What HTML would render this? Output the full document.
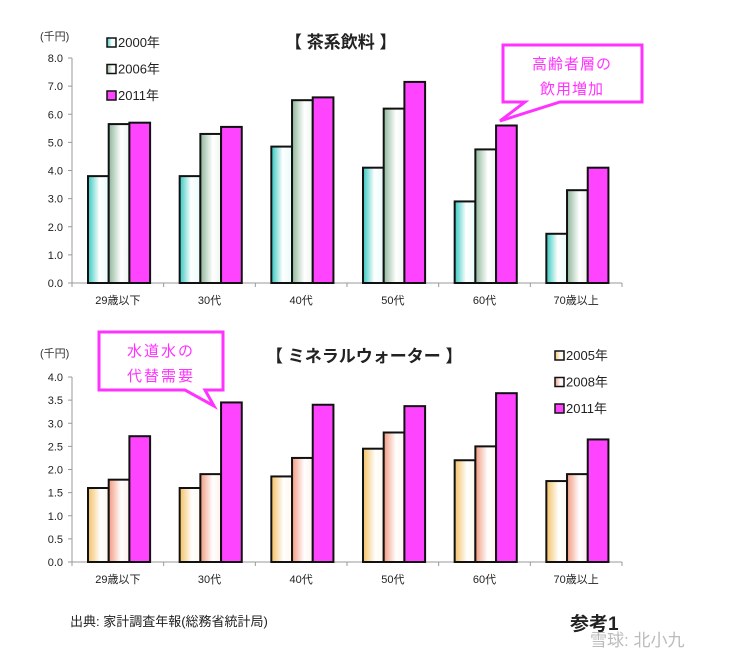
<!DOCTYPE html>
<html><head><meta charset="utf-8">
<style>
html,body{margin:0;padding:0;background:#fff;}
svg{display:block;font-family:"Liberation Sans","Noto Sans CJK JP",sans-serif;}
</style></head>
<body>
<svg id="c" width="755" height="663" viewBox="0 0 755 663" xmlns="http://www.w3.org/2000/svg">
<defs>
<linearGradient id="gCyan" x1="0" x2="1"><stop offset="0" stop-color="#33c8c0"/><stop offset="0.55" stop-color="#ffffff"/><stop offset="1" stop-color="#e8fbfa"/></linearGradient>
<linearGradient id="gGreen" x1="0" x2="1"><stop offset="0" stop-color="#8fb59a"/><stop offset="0.6" stop-color="#ffffff"/><stop offset="1" stop-color="#eef5ee"/></linearGradient>
<linearGradient id="gYellow" x1="0" x2="1"><stop offset="0" stop-color="#f3c062"/><stop offset="0.6" stop-color="#ffffff"/><stop offset="1" stop-color="#fff8ec"/></linearGradient>
<linearGradient id="gSalmon" x1="0" x2="1"><stop offset="0" stop-color="#f29a80"/><stop offset="0.6" stop-color="#ffffff"/><stop offset="1" stop-color="#fff0ea"/></linearGradient>
</defs>
<g id="top"></g>
<g id="bot"></g>

<text x="40" y="40" font-size="11" fill="#333">(千円)</text>
<text x="285" y="48" font-size="17" font-weight="bold" fill="#222">【 茶系飲料 】</text>
<text x="40" y="357" font-size="11" fill="#333">(千円)</text>
<text x="266" y="362" font-size="17" font-weight="bold" fill="#222">【 ミネラルウォーター 】</text>

<g>
<path d="M503,45 L642,45 L642,102 L560,102 L500,121 L525,102 L503,102 Z" fill="#fff" stroke="#ff33ff" stroke-width="3"/>
<text x="572" y="69" font-size="15" fill="#ff33ff" text-anchor="middle" letter-spacing="1">高齢者層の</text>
<text x="572" y="94" font-size="15" fill="#ff33ff" text-anchor="middle" letter-spacing="1">飲用増加</text>
</g>
<g>
<path d="M99,332 L223,332 L223,390 L205,390 L214,406 L185,390 L99,390 Z" fill="#fff" stroke="#ff33ff" stroke-width="3"/>
<text x="161" y="356" font-size="15" fill="#ff33ff" text-anchor="middle" letter-spacing="2">水道水の</text>
<text x="161" y="381" font-size="15" fill="#ff33ff" text-anchor="middle" letter-spacing="2">代替需要</text>
</g>

<text x="70" y="626" font-size="13" fill="#222">出典:   家計調査年報(総務省統計局)</text>
<text x="570" y="630" font-size="19" font-weight="bold" fill="#222">参考1</text>
<text x="590" y="646" font-size="17" fill="#bbb">雪球: 北小九</text>
</svg>
<script>
var categories = ["29歳以下","30代","40代","50代","60代","70歳以上"];
var teaYears = ["2000年","2006年","2011年"];
var tea2000 = [3.8,3.8,4.85,4.1,2.9,1.75];
var tea2006 = [5.65,5.3,6.5,6.2,4.75,3.3];
var tea2011 = [5.7,5.55,6.6,7.15,5.6,4.1];
var teaTicks = ["0.0","1.0","2.0","3.0","4.0","5.0","6.0","7.0","8.0"];
var waterYears = ["2005年","2008年","2011年"];
var water2005 = [1.6,1.6,1.85,2.45,2.2,1.75];
var water2008 = [1.78,1.9,2.25,2.8,2.5,1.9];
var water2011 = [2.72,3.45,3.4,3.37,3.65,2.65];
var waterTicks = ["0.0","0.5","1.0","1.5","2.0","2.5","3.0","3.5","4.0"];

var NS="http://www.w3.org/2000/svg";
function mk(parent,tag,attrs){var e=document.createElementNS(NS,tag);for(var k in attrs)e.setAttribute(k,attrs[k]);parent.appendChild(e);return e;}

function drawChart(g, cfg){
  var x0=72,x1=622,y0=cfg.y0,y1=cfg.y1,max=cfg.max;
  var band=(x1-x0)/categories.length, bw=20.7;
  function yScale(v){return y0-(v/max)*(y0-y1);}
  function xBand(i){return x0+i*band;}
  var ax=mk(g,'line',{x1:x0,y1:y0,x2:x0,y2:y1,stroke:'#999','stroke-width':1});
  
  
  var bx=mk(g,'line',{x1:x0,y1:y0,x2:x1,y2:y0,stroke:'#999','stroke-width':1});
  
  
  for(var t=0;t<cfg.ticks.length;t++){
    var v=t*max/(cfg.ticks.length-1), y=yScale(v);
    mk(g,'line',{x1:x0-4,y1:y,x2:x0,y2:y,stroke:'#999'});
    var tl=mk(g,'text',{x:x0-9,y:y+4,'font-size':11,'text-anchor':'end',fill:'#222'});
    tl.textContent=cfg.ticks[t];
    
    
  }
  for(var i=0;i<=categories.length;i++){
    mk(g,'line',{x1:xBand(i),y1:y0,x2:xBand(i),y2:y0+4,stroke:'#999'});
  }
  for(var i=0;i<categories.length;i++){
    var gx=xBand(i)+16;
    for(var s=0;s<3;s++){
      var v=cfg.series[s][i], y=yScale(v);
      var r=mk(g,'rect',{x:gx+s*bw,y:y,width:bw,height:y0-y,fill:cfg.fills[s],stroke:'#111','stroke-width':2});
      
      
    }
    var cl=mk(g,'text',{x:xBand(i)+band/2,y:y0+21,'font-size':11,'text-anchor':'middle',fill:'#222'});
    cl.textContent=categories[i];
    
    
  }
  for(var s=0;s<3;s++){
    var ly=cfg.legY+s*cfg.legStep;
    var lr=mk(g,'rect',{x:cfg.legX,y:ly-9,width:9,height:9,fill:cfg.fills[s],stroke:'#111','stroke-width':1.5});
    
    
    var lt=mk(g,'text',{x:cfg.legX+11,y:ly,'font-size':cfg.legFont,fill:'#222'});
    lt.textContent=cfg.years[s];
    
    
  }
}
drawChart(document.getElementById('top'),{y0:283,y1:58,max:8,ticks:teaTicks,series:[tea2000,tea2006,tea2011],years:teaYears,fills:['url(#gCyan)','url(#gGreen)','#ff44ff'],legX:107,legY:47,legStep:26.5,legFont:13});
drawChart(document.getElementById('bot'),{y0:562,y1:377,max:4,ticks:waterTicks,series:[water2005,water2008,water2011],years:waterYears,fills:['url(#gYellow)','url(#gSalmon)','#ff44ff'],legX:555,legY:360,legStep:26.5,legFont:13});
</script>
</body></html>
